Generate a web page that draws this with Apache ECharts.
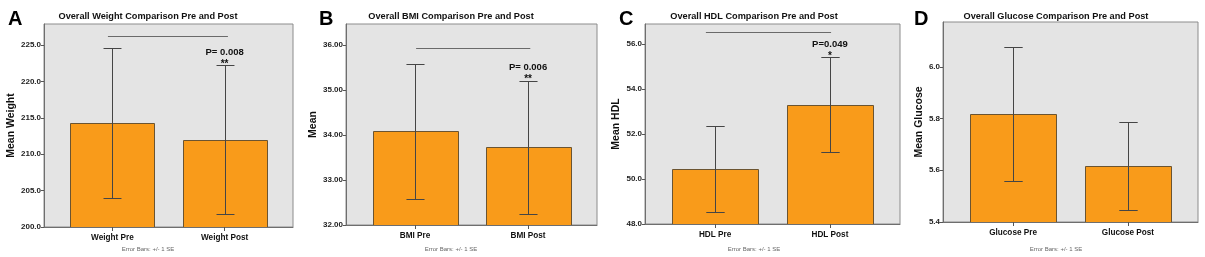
<!DOCTYPE html>
<html>
<head>
<meta charset="utf-8">
<script src="https://cdn.jsdelivr.net/npm/echarts@6/dist/echarts.min.js"></script>
<style>
  html, body { margin: 0; padding: 0; background: #fff; }
  #main { width: 1205px; height: 257px; }
</style>
</head>
<body>
<div id="main"></div>
<script>
// panel texts
const letters = ['A', 'B', 'C', 'D'];
const titles = [
  'Overall Weight Comparison Pre and Post',
  'Overall BMI Comparison Pre and Post',
  'Overall HDL Comparison Pre and Post',
  'Overall Glucose Comparison Pre and Post'
];
const yNames = ['Mean Weight', 'Mean', 'Mean HDL', 'Mean Glucose'];
const categories = [
  ['Weight Pre', 'Weight Post'],
  ['BMI Pre', 'BMI Post'],
  ['HDL Pre', 'HDL Post'],
  ['Glucose Pre', 'Glucose Post']
];
const footnote = 'Error Bars: +/- 1 SE';

// values: mean and +/- 1 SE
const weightMean = [214.3, 212.0];
const weightSE = [10.3, 10.2];
const bmiMean = [34.08, 33.73];
const bmiSE = [1.50, 1.48];
const hdlMean = [50.45, 53.30];
const hdlSE = [1.92, 2.11];
const glucoseMean = [5.817, 5.617];
const glucoseSE = [0.259, 0.171];

// y axis ranges and tick labels
const yMin = [200, 32, 48, 5.4];
const yMax = [227.9, 36.47, 56.89, 6.173];
const yTicks = [
  [200, 205, 210, 215, 220, 225],
  [32, 33, 34, 35, 36],
  [48, 50, 52, 54, 56],
  [5.4, 5.6, 5.8, 6.0]
];
const yDecimals = [1, 2, 1, 1];

// significance annotations (bracket level, text), none on D
const bracketY = [226.24, 35.93, 56.52, null];
const bracketSpan = [[-0.04, 1.03], [0.01, 1.02], [-0.08, 1.01], null];
const pTexts = ['P= 0.008', 'P= 0.006', 'P=0.049', null];
const stars = ['**', '**', '*', null];

const means = [weightMean, bmiMean, hdlMean, glucoseMean];
const ses = [weightSE, bmiSE, hdlSE, glucoseSE];

// layout of the four plot boxes
const boxes = [
  { left: 44, top: 24, width: 249, height: 203 },
  { left: 346, top: 24, width: 251, height: 201 },
  { left: 645, top: 24, width: 255, height: 200 },
  { left: 943, top: 22, width: 255, height: 200 }
];
const titleCenters = [148, 451, 754, 1056];
const nameGaps = [24, 27, 23, 18];
const letterPos = [[3, 4], [314, 4], [614, 4], [909, 4]];
const FONT = 'Liberation Sans';
const lineColor = '#454545';

const myChart = echarts.init(document.getElementById('main'), null, { renderer: 'canvas' });

function px(v) { return Math.round(v) + 0.5; }

function barRender(pi) {
  return function (params, api) {
    const x = api.value(0), m = api.value(1), s = api.value(2);
    const base = api.coord([x, yMin[pi]]);
    const top = api.coord([x, m]);
    const hi = api.coord([x, m + s]);
    const lo = api.coord([x, m - s]);
    const w = api.size([0.75, 0])[0];
    const cap = api.size([0.16, 0])[0];
    const cx = px(top[0]);
    return {
      type: 'group',
      children: [
        {
          type: 'rect',
          shape: { x: Math.round(top[0] - w / 2) + 0.5, y: Math.round(top[1]) + 0.5, width: Math.round(w), height: Math.round(base[1] - top[1]) },
          style: { fill: '#f99b1a', stroke: '#6b5431', lineWidth: 1 }
        },
        { type: 'line', shape: { x1: cx, y1: px(hi[1]), x2: cx, y2: px(lo[1]) }, style: { stroke: lineColor, lineWidth: 1 } },
        { type: 'line', shape: { x1: cx - cap / 2, y1: px(hi[1]), x2: cx + cap / 2, y2: px(hi[1]) }, style: { stroke: lineColor, lineWidth: 1 } },
        { type: 'line', shape: { x1: cx - cap / 2, y1: px(lo[1]), x2: cx + cap / 2, y2: px(lo[1]) }, style: { stroke: lineColor, lineWidth: 1 } }
      ]
    };
  };
}

function noteRender(pi) {
  return function (params, api) {
    const a = api.coord([api.value(0), api.value(2)]);
    const b = api.coord([api.value(1), api.value(2)]);
    const capTop = api.coord([api.value(3), api.value(4)]);
    return {
      type: 'group',
      children: [
        { type: 'line', shape: { x1: a[0], y1: px(a[1]), x2: b[0], y2: px(b[1]) }, style: { stroke: '#6a6a6a', lineWidth: 1 } },
        {
          type: 'text',
          style: { text: pTexts[pi], x: capTop[0], y: capTop[1] - 13, align: 'center', verticalAlign: 'middle', font: 'bold 9.5px "' + FONT + '"', fill: '#111' }
        },
        {
          type: 'text',
          style: { text: stars[pi], x: capTop[0], y: capTop[1] - 1, align: 'center', verticalAlign: 'middle', font: 'bold 10px "' + FONT + '"', fill: '#111' }
        }
      ]
    };
  };
}

const grids = [], xAxes = [], yAxes = [], series = [], titleList = [];

for (let i = 0; i < 4; i++) {
  const b = boxes[i];
  grids.push({
    left: b.left, top: b.top, width: b.width, height: b.height,
    show: true, backgroundColor: '#e4e4e4', borderColor: '#8c8c8c', borderWidth: 1
  });
  const cats = categories[i];
  xAxes.push({
    type: 'value', gridIndex: i, min: -0.61, max: 1.61,
    splitLine: { show: false },
    axisLine: { show: true, onZero: false, lineStyle: { color: '#6e6e6e' } },
    axisTick: { show: true, customValues: [0, 1], length: 4, lineStyle: { color: '#555' } },
    axisLabel: {
      customValues: [0, 1], margin: 7,
      formatter: v => cats[Math.round(v)],
      fontFamily: FONT, fontWeight: 'bold', fontSize: 8.2, color: '#111'
    }
  });
  const dec = yDecimals[i];
  yAxes.push({
    type: 'value', gridIndex: i, min: yMin[i], max: yMax[i],
    name: yNames[i], nameLocation: 'middle', nameGap: nameGaps[i],
    nameTextStyle: { fontFamily: FONT, fontWeight: 'bold', fontSize: 10.5, color: '#111' },
    splitLine: { show: false },
    axisLine: { show: true, onZero: false, lineStyle: { color: '#6e6e6e' } },
    axisTick: { show: true, customValues: yTicks[i], length: 3, lineStyle: { color: '#555' } },
    axisLabel: {
      customValues: yTicks[i], margin: 3,
      formatter: v => v.toFixed(dec),
      fontFamily: FONT, fontWeight: 'bold', fontSize: 8, color: '#222'
    }
  });
  series.push({
    type: 'custom', xAxisIndex: i, yAxisIndex: i, renderItem: barRender(i),
    clip: true, silent: true,
    data: means[i].map((m, k) => [k, m, ses[i][k]])
  });
  if (bracketY[i] !== null) {
    series.push({
      type: 'custom', xAxisIndex: i, yAxisIndex: i, renderItem: noteRender(i), silent: true,
      data: [[bracketSpan[i][0], bracketSpan[i][1], bracketY[i], 1, means[i][1] + ses[i][1]]]
    });
  }
  titleList.push({
    text: titles[i], left: titleCenters[i], top: 12, textAlign: 'center', padding: 0,
    textStyle: { fontFamily: FONT, fontWeight: 'bold', fontSize: 9.2, color: '#111' }
  });
  titleList.push({
    text: letters[i], left: letterPos[i][0], top: letterPos[i][1],
    textStyle: { fontFamily: FONT, fontWeight: 'bold', fontSize: 20, color: '#000' }
  });
  titleList.push({
    text: footnote, left: titleCenters[i], top: 246, textAlign: 'center', padding: 0,
    textStyle: { fontFamily: FONT, fontWeight: 'normal', fontSize: 6, color: '#666' }
  });
}

const option = {
  animation: false,
  title: titleList,
  grid: grids,
  xAxis: xAxes,
  yAxis: yAxes,
  series: series
};
myChart.setOption(option);
</script>
</body>
</html>
